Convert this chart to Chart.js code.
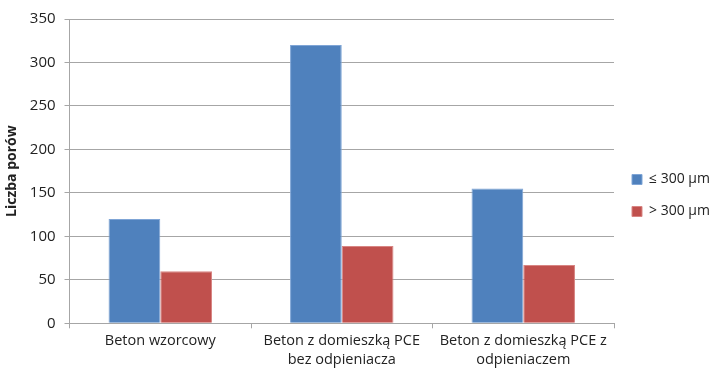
<!DOCTYPE html>
<html><head><meta charset="utf-8">
<script src="https://cdn.jsdelivr.net/npm/chart.js@4"></script>
<style>html,body{margin:0;padding:0;background:#fff}#w{width:711px;height:372px}</style>
</head><body><div id="w"><canvas id="c"></canvas></div>
<script>
const categories = ["Beton wzorcowy", ["Beton z domieszką PCE", "bez odpieniacza"], ["Beton z domieszką PCE z", "odpieniaczem"]];
const seriesNames = ["≤ 300 µm", "> 300 µm"];
const smallPores = [120, 320, 155];
const largePores = [60, 89, 67];
const yTicks = [0, 50, 100, 150, 200, 250, 300, 350];
const yTitle = "Liczba porów";

const font = "'Open Sans', 'Liberation Sans', sans-serif";
const legendWidthPlugin = {
  id: 'legendWidth',
  beforeLayout(chart) {
    const lg = chart.legend;
    if (lg && !lg._fixedWidth) {
      const orig = lg.fit.bind(lg);
      lg.fit = function () { orig(); this.width = 97; };
      lg._fixedWidth = true;
    }
  }
};
new Chart(document.getElementById('c'), {
  type: 'bar',
  data: {
    labels: categories,
    datasets: [
      { label: seriesNames[0], data: smallPores, backgroundColor: '#4F81BD', borderColor: '#7FA5D6', borderWidth: 1, categoryPercentage: 0.57, barPercentage: 1.0 },
      { label: seriesNames[1], data: largePores, backgroundColor: '#C0504D', borderColor: '#D88583', borderWidth: 1, categoryPercentage: 0.57, barPercentage: 1.0 }
    ]
  },
  plugins: [legendWidthPlugin],
  options: {
    responsive: true, maintainAspectRatio: false, animation: false,
    layout: { padding: { top: 19, left: 0, right: 0, bottom: 0 } },
    plugins: {
      tooltip: { enabled: false },
      legend: {
        position: 'right',
        labels: { font: { family: font, size: 14 }, color: '#222', boxWidth: 10, boxHeight: 10, padding: 18 }
      }
    },
    scales: {
      x: {
        grid: { offset: true, drawOnChartArea: false, color: '#a6a6a6', tickLength: 5 },
        border: { color: '#a6a6a6' },
        ticks: { font: { family: font, size: 14.5, lineHeight: 1.3 }, color: '#222', maxRotation: 0, padding: 3 }
      },
      y: {
        min: 0, max: 350,
        afterBuildTicks: (s) => { s.ticks = yTicks.map(v => ({ value: v })); },
        grid: { color: '#a6a6a6', tickLength: 5 },
        border: { color: '#a6a6a6' },
        ticks: { font: { family: font, size: 15 }, color: '#222', padding: 9 },
        title: { display: true, text: yTitle, font: { family: font, size: 14, weight: 'bold' }, color: '#222', padding: { top: 4, bottom: 0 } }
      }
    }
  }
});
</script></body></html>
